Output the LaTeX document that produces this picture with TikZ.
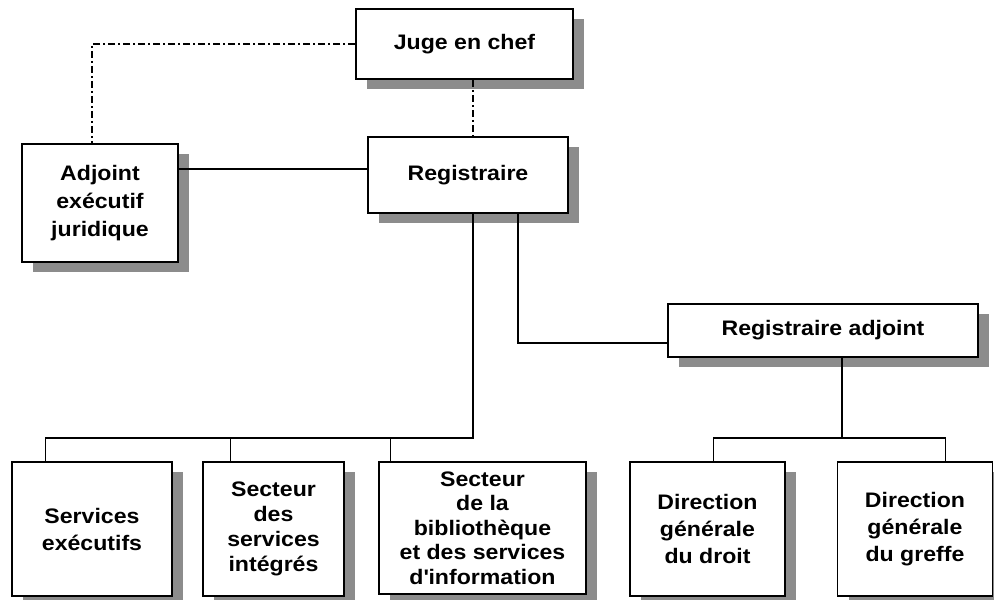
\documentclass[tikz,border=0pt]{standalone}
\usepackage{fontspec}
\setmainfont{Liberation Sans}[FakeStretch=1.1]
\usetikzlibrary{shadows}

\definecolor{shadowgray}{RGB}{140,140,140}
\tikzset{
  unit/.style={draw, line width=1.6pt, fill=white, inner sep=0pt, align=center,
    font=\bfseries\fontsize{21}{27}\selectfont,
    drop shadow={shadow xshift=11pt, shadow yshift=-10pt, fill=shadowgray, opacity=1}},
  link/.style={line width=1.3pt},
  dashdot/.style={line width=1.3pt, dash pattern=on 7pt off 3pt on 2pt off 3pt}
}

\begin{document}
\begin{tikzpicture}[x=1pt, y=-1pt]
\useasboundingbox (0,0) rectangle (994,600);
% top of the chart
\node[unit, minimum width=217pt, minimum height=70pt] (juge) at (464.5,44) {Juge en chef};
\node[unit, minimum width=200pt, minimum height=76pt] (registraire) at (468,175) {Registraire};
\node[unit, minimum width=156pt, minimum height=118pt, font=\bfseries\fontsize{21}{28}\selectfont] (adjoint) at (100,203) {Adjoint\\exécutif\\juridique};
\node[unit, minimum width=310pt, minimum height=53pt] (regadj) at (823,330.5) {Registraire adjoint};
% bottom row
\node[unit, minimum width=160pt, minimum height=134pt] (servexec) at (92,529) {Services\\exécutifs};
\node[unit, minimum width=141pt, minimum height=134pt, font=\bfseries\fontsize{21}{25}\selectfont] (secserv) at (273.5,529) {Secteur\\des\\services\\intégrés};
\node[unit, minimum width=207pt, minimum height=132pt, font=\bfseries\fontsize{21}{24.5}\selectfont] (secbib) at (482.5,528) {Secteur\\de la\\bibliothèque\\et des services\\d\textquotesingle information};
\node[unit, minimum width=155pt, minimum height=134pt] (dirdroit) at (707.5,529) {Direction\\générale\\du droit};
\node[unit, minimum width=155pt, minimum height=134pt] (dirgreffe) at (915,529) {Direction\\générale\\du greffe};

\coordinate (trunk) at (473,438);
\coordinate (rightbus) at (842,438);
% links
\draw[dashdot] (juge.west) -| ([xshift=-8pt]adjoint.north);
\draw[dashdot] (juge.south -| trunk) -- (registraire.north -| trunk);
\draw[link] ([yshift=6pt]registraire.west) -- ([yshift=6pt]registraire.west -| adjoint.east);
\draw[link] (registraire.south -| trunk) -- (trunk) -| ([xshift=34pt]servexec.north west);
\draw[link] ([xshift=28pt]secserv.north west) |- (trunk);
\draw[link] ([xshift=12pt]secbib.north west) |- (trunk);
\draw[link] ([xshift=50pt]registraire.south) |- ([yshift=-12.5pt]regadj.west);
\draw[link] (regadj.south -| rightbus) -- (rightbus);
\draw[link] ([xshift=84pt]dirdroit.north west) |- (rightbus) -| ([xshift=109pt]dirgreffe.north west);
\end{tikzpicture}
\end{document}
